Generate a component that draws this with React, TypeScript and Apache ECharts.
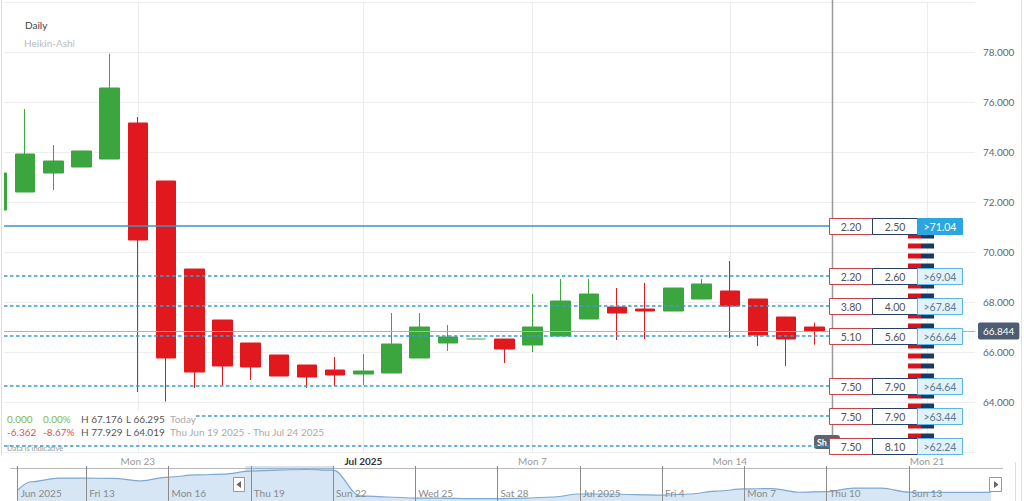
import React, { useEffect, useRef } from "react";
import * as echarts from "echarts";

const FONT = "Lato, 'Noto Sans', sans-serif";

// ---- main chart data (Heikin-Ashi daily candles, from Wed Jun 18 2025) ----
const dayLabels = [
  "Wed 18", "Thu 19", "Fri 20", "Sat 21", "Sun 22", "Mon 23", "Tue 24", "Wed 25", "Thu 26", "Fri 27",
  "Sat 28", "Sun 29", "Mon 30", "Tue 1", "Wed 2", "Thu 3", "Fri 4", "Sat 5", "Sun 6", "Mon 7",
  "Tue 8", "Wed 9", "Thu 10", "Fri 11", "Sat 12", "Sun 13", "Mon 14", "Tue 15", "Wed 16", "Thu 17",
];
const openValues = [
  71.68, 72.4, 73.16, 73.4, 73.72, 75.16, 72.84, 69.32, 67.28, 66.36,
  65.88, 65.48, 65.28, 65.12, 65.16, 65.76, 66.36, 66.52, 66.52, 66.28,
  66.64, 67.32, 67.8, 67.72, 67.64, 68.12, 68.44, 68.12, 67.4, 67.0,
];
const closeValues = [
  73.16, 73.92, 73.64, 74.04, 76.56, 70.48, 65.76, 65.2, 65.44, 65.4,
  65.04, 65.0, 65.08, 65.24, 66.32, 67.0, 66.6, 66.52, 66.12, 67.0,
  68.04, 68.32, 67.56, 67.64, 68.56, 68.72, 67.84, 66.68, 66.52, 66.844,
];
const lowValues = [
  71.68, 72.4, 72.48, 73.4, 73.72, 64.4, 64.019, 64.56, 64.68, 64.88,
  65.04, 64.56, 64.64, 64.68, 65.16, 65.76, 66.04, 66.52, 65.56, 66.0,
  66.64, 67.32, 66.48, 66.52, 67.64, 68.12, 66.56, 66.24, 65.44, 66.295,
];
const highValues = [
  73.16, 75.72, 74.28, 74.04, 77.929, 75.4, 72.84, 69.32, 67.28, 66.36,
  65.88, 65.48, 65.8, 65.92, 67.56, 67.56, 67.08, 66.52, 66.52, 68.32,
  68.92, 68.92, 68.56, 68.76, 68.56, 68.92, 69.64, 68.12, 67.4, 67.176,
];
const xTickIndex = [5, 13, 19, 26, 33];
const xTickLabels = ["Mon 23", "Jul 2025", "Mon 7", "Mon 14", "Mon 21"];

// ---- price ladder (levels, bid, ask) ----
const levelPrices = [71.04, 69.04, 67.84, 66.64, 64.64, 63.44, 62.24];
const levelBid = [2.2, 2.2, 3.8, 5.1, 7.5, 7.5, 7.5];
const levelAsk = [2.5, 2.6, 4.0, 5.6, 7.9, 7.9, 8.1];
const depthPrices = [
  70.64, 70.24, 69.84, 69.44, 69.04, 68.64, 68.24, 67.84, 67.44, 67.04, 66.64,
  66.24, 65.84, 65.44, 65.04, 64.64, 64.24, 63.84, 63.44, 63.04, 62.64, 62.24,
];

// ---- legend texts ----
const legendRow1 = ["0.000", "0.00%", "H 67.176", "L 66.295", "Today"];
const legendRow2 = ["-6.362", "-8.67%", "H 77.929", "L 64.019", "Thu Jun 19 2025 - Thu Jul 24 2025"];

// ---- navigator (days from Jun 10 2025) ----
const navDays = [0.5, 1, 2, 3, 4, 5, 6, 7, 8, 9, 10, 11, 12, 13, 14, 15, 16, 17, 18, 19, 20, 21, 22, 23, 24, 25, 26, 27, 28, 29, 30, 31, 32, 33, 34, 35, 36];
const navValues = [
  66.3, 71.0, 73.1, 73.1, 72.9, 71.5, 73.7, 74.9, 75.4, 77.1, 77.7, 78.0, 77.6,
  62.9, 62.3, 61.7, 61.7, 61.4, 61.4, 61.7, 62.3, 64.0, 64.0, 63.7, 63.4, 64.0,
  65.7, 66.9, 67.1, 65.0, 65.4, 67.4, 67.4, 65.1, 64.9, 64.9, 65.1,
];
const navTickDays = [0.5, 3, 6, 9, 12, 15, 18, 21, 24, 27, 30, 33];
const navTickLabels = ["Jun 2025", "Fri 13", "Mon 16", "Thu 19", "Sun 22", "Wed 25", "Sat 28", "Jul 2025", "Fri 4", "Mon 7", "Thu 10", "Sun 13"];
const navSelection = [8.8, 12];

const GREEN = "#3ba53e";
const RED = "#e2181f";

function buildOption(): any {
  const candleData = openValues.map((o, i) => [i, o, closeValues[i], lowValues[i], highValues[i]]);
  const lastClose = closeValues[closeValues.length - 1];

  const txt = (text: string, x: number, y: number, fill: string, extra: any = {}, z = 51) => ({
    type: "text",
    x,
    y,
    z,
    silent: true,
    style: { text, fill, fontSize: 10, fontFamily: FONT, verticalAlign: "middle", ...extra },
  });

  const legendX = [7, 43, 81, 126, 170];
  const row1Colors = ["#7dbb3f", "#7dbb3f", "#555", "#555", "#aaa"];
  const row2Colors = ["#d9534f", "#d9534f", "#555", "#555", "#aaa"];

  return {
    animation: false,
    textStyle: { fontFamily: FONT },
    grid: [
      { left: 4, right: 49, top: 2, bottom: 49, containLabel: false },
      { left: 4, right: 22, top: 466, bottom: 0, containLabel: false },
    ],
    xAxis: [
      {
        type: "value",
        gridIndex: 0,
        min: 0.25,
        max: 34.7,
        axisLine: { show: false },
        axisTick: { show: false, customValues: xTickIndex },
        axisLabel: {
          customValues: xTickIndex,
          margin: 4,
          formatter: (v: number) => {
            const k = xTickIndex.indexOf(Math.round(v));
            const t = xTickLabels[k] || "";
            return t.indexOf("20") >= 0 ? `{b|${t}}` : `{n|${t}}`;
          },
          rich: {
            b: { fontWeight: "bold", color: "#333", fontSize: 10, fontFamily: FONT },
            n: { color: "#9a9a9a", fontSize: 10, fontFamily: FONT },
          },
        },
        splitLine: { show: true, lineStyle: { color: "#ececec" } },
      },
      {
        type: "value",
        gridIndex: 1,
        min: 0,
        max: 36.4,
        z: 10,
        axisLine: { show: false },
        axisTick: { show: false, customValues: navTickDays },
        axisLabel: {
          inside: true,
          customValues: navTickDays,
          margin: 3,
          align: "left",
          padding: [0, 0, 0, 3],
          color: "#8a8a8a",
          fontSize: 10,
          formatter: (v: number) => {
            const k = navTickDays.indexOf(v);
            return k >= 0 ? navTickLabels[k] : "";
          },
        },
        splitLine: { show: true, lineStyle: { color: "#8c8c8c" } },
      },
    ],
    yAxis: [
      {
        type: "value",
        gridIndex: 0,
        position: "right",
        min: 62,
        max: 80,
        interval: 2,
        axisLine: { show: false },
        axisTick: { show: false },
        axisLabel: {
          formatter: (v: number) => v.toFixed(3),
          color: "#666",
          fontSize: 10,
          margin: 8,
          showMinLabel: false,
          showMaxLabel: false,
        },
        splitLine: { lineStyle: { color: "#eeeeee" } },
      },
      {
        type: "value",
        gridIndex: 1,
        min: 60,
        max: 80,
        show: false,
        splitLine: { show: false },
      },
    ],
    series: [
      {
        type: "candlestick",
        xAxisIndex: 0,
        yAxisIndex: 0,
        data: candleData,
        barWidth: 20,
        clip: true,
        z: 2,
        itemStyle: {
          color: GREEN,
          color0: RED,
          borderColor: GREEN,
          borderColor0: RED,
          borderColorDoji: "#86c087",
          borderWidth: 1,
        },
        markLine: {
          silent: true,
          symbol: ["none", "none"],
          data: [{ yAxis: lastClose }],
          lineStyle: { color: "#a9b4c2", type: "solid", width: 1 },
          label: {
            position: "end",
            formatter: lastClose.toFixed(3),
            color: "#fff",
            backgroundColor: "#4e5d72",
            padding: [4, 5, 3, 5],
            borderRadius: 2,
            fontSize: 10,
            distance: 3,
          },
        },
      },
      {
        type: "custom",
        xAxisIndex: 0,
        yAxisIndex: 0,
        z: 4,
        clip: false,
        silent: true,
        data: depthPrices.map((p) => [p, p]),
        renderItem: (params: any, api: any) => {
          const cs = params.coordSys;
          const right = cs.x + cs.width;
          const y = api.coord([1, api.value(0)])[1];
          return {
            type: "group",
            children: [
              { type: "rect", shape: { x: right - 67, y: y - 2.5, width: 13, height: 5 }, style: { fill: "#d7141e" } },
              { type: "rect", shape: { x: right - 54, y: y - 2.5, width: 13, height: 5 }, style: { fill: "#1b3a63" } },
            ],
          };
        },
      },
      {
        type: "custom",
        xAxisIndex: 0,
        yAxisIndex: 0,
        z: 5,
        clip: false,
        silent: true,
        data: levelPrices.map((p, i) => [p, levelBid[i], levelAsk[i], i]),
        renderItem: (params: any, api: any) => {
          const cs = params.coordSys;
          const right = cs.x + cs.width;
          const price = api.value(0);
          const idx = api.value(3);
          const y = Math.round(api.coord([1, price])[1]);
          const first = idx === 0;
          const c1 = Math.round(right - 146) + 0.5;
          const c2 = Math.round(right - 103) + 0.5;
          const c3 = Math.round(right - 58) + 0.5;
          const h = 16;
          const top = y - 8 + 0.5;
          const tstyle = (text: string, fill: string) => ({
            text,
            fill,
            fontSize: 10.5,
            fontFamily: FONT,
            align: "center",
            verticalAlign: "middle",
          });
          return {
            type: "group",
            children: [
              {
                type: "line",
                shape: { x1: cs.x, y1: y, x2: c1, y2: y },
                style: first
                  ? { stroke: "#3a93c9", lineWidth: 1.6 }
                  : { stroke: "#3d9cc8", lineWidth: 1.5, lineDash: [3.5, 2.5] },
              },
              { type: "rect", shape: { x: c1, y: top, width: 43, height: h }, style: { fill: "#fff", stroke: "#c9424a", lineWidth: 1 } },
              { type: "rect", shape: { x: c2, y: top, width: 45, height: h }, style: { fill: "#fff", stroke: "#2a3f5f", lineWidth: 1 } },
              {
                type: "rect",
                shape: { x: c3, y: top, width: 45, height: h },
                style: first
                  ? { fill: "#2ba6e1", stroke: "#2ba6e1", lineWidth: 1 }
                  : { fill: "#e1f2fb", stroke: "#5bb5de", lineWidth: 1 },
              },
              { type: "text", x: c1 + 21.5, y: y + 0.5, style: tstyle(api.value(1).toFixed(2), "#555") },
              { type: "text", x: c2 + 22.5, y: y + 0.5, style: tstyle(api.value(2).toFixed(2), "#555") },
              { type: "text", x: c3 + 22.5, y: y + 0.5, style: tstyle(">" + price.toFixed(2), first ? "#fff" : "#5b7a90") },
            ],
          };
        },
      },
      {
        type: "line",
        xAxisIndex: 1,
        yAxisIndex: 1,
        data: navDays.map((d, i) => [d, navValues[i]]),
        smooth: 0.35,
        smoothMonotone: "x",
        symbol: "none",
        silent: true,
        z: 2,
        lineStyle: { color: "#7ea9d1", width: 1.2 },
        areaStyle: { color: "#d7e6f4", opacity: 1 },
        markArea: {
          silent: true,
          itemStyle: { color: "rgba(105,150,205,0.28)" },
          data: [[{ xAxis: navSelection[0] }, { xAxis: navSelection[1] }]],
        },
      },
    ],
    graphic: [
      // mask for the part of the first candle left of the plot
      { type: "rect", z: 3, silent: true, shape: { x: 0, y: 0, width: 4, height: 455 }, style: { fill: "#fff" } },
      // frame lines
      { type: "line", z: 4, silent: true, shape: { x1: 1.5, y1: 0, x2: 1.5, y2: 455 }, style: { stroke: "#dddddd", lineWidth: 1 } },
      { type: "line", z: 1, silent: true, shape: { x1: 1021.5, y1: 0, x2: 1021.5, y2: 501 }, style: { stroke: "#e3e3e3", lineWidth: 1 } },
      { type: "line", z: 1, silent: true, shape: { x1: 10, y1: 468.5, x2: 1003, y2: 468.5 }, style: { stroke: "#bbbbbb", lineWidth: 1 } },
      { type: "line", z: 1, silent: true, shape: { x1: 1015.5, y1: 462, x2: 1015.5, y2: 501 }, style: { stroke: "#dddddd", lineWidth: 1 } },
      // vertical marker line and its label
      { type: "line", z: 1, silent: true, shape: { x1: 832.5, y1: 0, x2: 832.5, y2: 438 }, style: { stroke: "#9a9a9a", lineWidth: 1.5 } },
      { type: "rect", z: 1, silent: true, shape: { x: 814, y: 435, width: 26, height: 14, r: 3 }, style: { fill: "#5d6370" } },
      txt("Sh", 817, 442, "#fff", { fontWeight: "bold", fontSize: 9 }, 1),
      // title
      txt("Daily", 25, 25, "#444", {}, 51),
      txt("Heikin-Ashi", 24, 43, "#bbbbbb", {}, 51),
      // legend block
      { type: "rect", z: 50, silent: true, shape: { x: 4, y: 411, width: 190, height: 28 }, style: { fill: "#fff" } },
      ...legendRow1.map((t, i) => txt(t, legendX[i], 419, row1Colors[i])),
      ...legendRow2.map((t, i) => txt(t, legendX[i], 432, row2Colors[i])),
      txt("Data is indicative", 7, 448, "#999", { fontSize: 7.5 }, 1),
      // navigator buttons
      { type: "rect", z: 60, silent: true, shape: { x: 233.5, y: 477.5, width: 11, height: 14 }, style: { fill: "#fff", stroke: "#999", lineWidth: 1 } },
      { type: "polygon", z: 61, silent: true, shape: { points: [[241, 481], [241, 488], [236.5, 484.5]] }, style: { fill: "#666" } },
      { type: "rect", z: 60, silent: true, shape: { x: 989.5, y: 477.5, width: 12, height: 14 }, style: { fill: "#fff", stroke: "#999", lineWidth: 1 } },
      { type: "polygon", z: 61, silent: true, shape: { points: [[994, 481], [994, 488], [998.5, 484.5]] }, style: { fill: "#666" } },
    ],
  };
}

export default function App() {
  const ref = useRef<HTMLDivElement>(null);
  useEffect(() => {
    if (!ref.current) return;
    const chart = echarts.init(ref.current, null, { renderer: "svg" });
    chart.setOption(buildOption());
    return () => chart.dispose();
  }, []);
  return (
    <div
      ref={ref}
      style={{ position: "absolute", left: 0, top: 0, width: 1024, height: 501, background: "#fff" }}
    />
  );
}
